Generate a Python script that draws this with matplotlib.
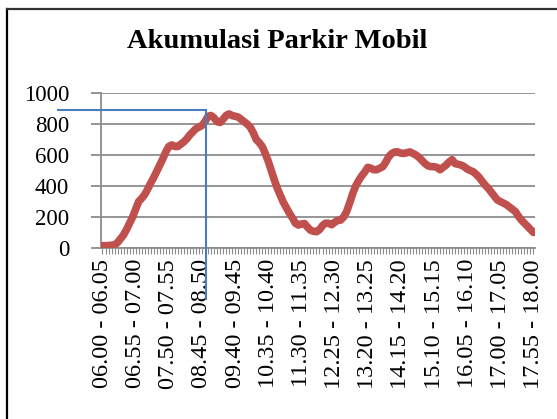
import matplotlib
matplotlib.use("Agg")
import matplotlib.pyplot as plt
from matplotlib.lines import Line2D
import numpy as np

# 5-minute intervals 06.00 - 18.00
starts = ["%02d.%02d" % divmod(m, 60) for m in range(360, 1080, 5)]
ends = ["%02d.%02d" % divmod(m, 60) for m in range(365, 1085, 5)]
categories = ["%s - %s" % (a, b) for a, b in zip(starts, ends)]

akumulasi = [
    15, 15, 16, 18, 20, 35, 60, 85, 120, 160,
    200, 250, 300, 320, 345, 380, 420, 455, 495, 535,
    575, 620, 655, 665, 655, 655, 670, 685, 705, 730,
    750, 770, 780, 790, 815, 850, 855, 840, 815, 810,
    830, 855, 865, 855, 850, 845, 830, 815, 800, 780,
    745, 700, 680, 655, 610, 560, 500, 440, 385, 340,
    295, 260, 225, 195, 160, 148, 155, 158, 135, 115,
    108, 105, 118, 145, 160, 160, 150, 165, 178, 180,
    200, 235, 290, 350, 400, 435, 465, 490, 520, 515,
    505, 505, 515, 525, 555, 590, 610, 620, 620, 612,
    610, 615, 620, 610, 600, 585, 565, 545, 530, 525,
    525, 520, 505, 520, 535, 555, 570, 545, 540, 535,
    525, 510, 500, 492, 475, 455, 430, 405, 385, 360,
    335, 310, 300, 290, 280, 265, 250, 235, 205, 180,
    160, 140, 120, 100,
]

yticks = [0, 200, 400, 600, 800, 1000]
label_step = 11
guide_y = 890      # horizontal guide line
guide_x = 34.3     # vertical guide line (category position)

SERIF = ["Liberation Serif", "DejaVu Serif"]
GRID = "#8c8c8c"

fig = plt.figure(figsize=(5.57, 4.19), dpi=100)
ax = fig.add_axes([0.1813, 0.4081, 0.9605 - 0.1813, 0.778 - 0.4081])

x = np.arange(len(categories))
ax.plot(x, akumulasi, color="#C0504D", lw=5.5, solid_capstyle="round",
        solid_joinstyle="round", zorder=3)

ax.set_xlim(-0.5, len(categories) - 0.5)
ax.set_ylim(0, 1000)
ax.set_yticks(yticks)
ax.set_yticklabels([str(t) for t in yticks], fontfamily=SERIF, fontsize=16.5)
ax.yaxis.grid(True, color=GRID, lw=1.3)
ax.set_axisbelow(True)

ax.set_xticks(x[::label_step])
ax.set_xticklabels(categories[::label_step], rotation=90, fontfamily=SERIF,
                   fontsize=17.5)
ax.set_xticks(x, minor=True)
ax.tick_params(axis="x", which="both", length=4, width=0.8, color=GRID,
               direction="out", pad=4)
ax.tick_params(axis="y", length=7, width=1.3, color=GRID, pad=16)

for s in ["top", "right"]:
    ax.spines[s].set_visible(False)
for s in ["left", "bottom"]:
    ax.spines[s].set_color(GRID)
    ax.spines[s].set_linewidth(1.3)

# blue guide lines
ax.plot([-14.8, guide_x], [guide_y, guide_y], color="#4A7EBB", lw=1.5,
        clip_on=False, zorder=4)
ax.plot([guide_x, guide_x], [guide_y, -330], color="#4A7EBB", lw=1.5,
        clip_on=False, zorder=4)

fig.text(277 / 557, 1 - 48 / 419, "Akumulasi Parkir Mobil", ha="center",
         va="baseline", fontfamily=SERIF, fontweight="bold", fontsize=20.5)

# chart frame
fig.add_artist(Line2D([7 / 557, 7 / 557], [0, 1 - 9 / 419], color="black",
                      lw=1.6, transform=fig.transFigure))
fig.add_artist(Line2D([7 / 557, 1], [1 - 9 / 419, 1 - 9 / 419], color="#333333",
                      lw=1.6, transform=fig.transFigure))

fig.savefig("out.png", dpi=100)
